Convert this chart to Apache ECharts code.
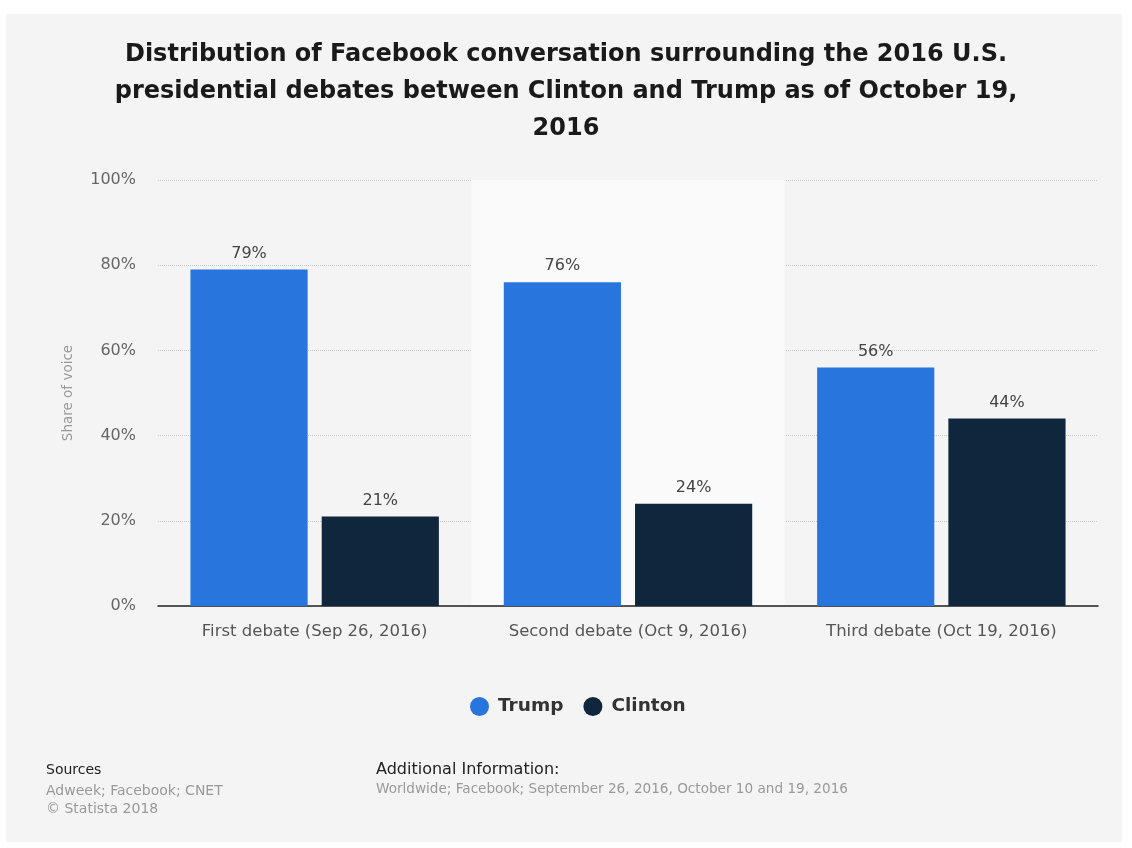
<!DOCTYPE html>
<html>
<head>
<meta charset="utf-8">
<script src="https://cdn.jsdelivr.net/npm/echarts@6/dist/echarts.min.js"></script>
<style>
  html, body { margin: 0; padding: 0; background: #fff; }
  #chart { width: 1132px; height: 848px; }
</style>
</head>
<body>
<div id="chart"></div>
<script>
// 数据
const categories = ['First debate (Sep 26, 2016)', 'Second debate (Oct 9, 2016)', 'Third debate (Oct 19, 2016)']
const trump = [79, 76, 56]
const clinton = [21, 24, 44]
const yTicks = [0, 20, 40, 60, 80, 100]

const myChart = echarts.init(document.querySelector('#chart'))

const font = 'DejaVu Sans, sans-serif'

const option = {
  backgroundColor: '#fff',
  textStyle: { fontFamily: font },
  title: {
    text: 'Distribution of Facebook conversation surrounding the 2016 U.S.\npresidential debates between Clinton and Trump as of October 19,\n2016',
    left: 'center',
    top: 31,
    textStyle: {
      fontFamily: font,
      fontSize: 24,
      fontWeight: 'bold',
      color: '#1a1a1a',
      lineHeight: 37
    }
  },
  // 背景面板 + 底部来源
  graphic: [
    {
      type: 'rect',
      z: -10,
      shape: { x: 6, y: 14, width: 1116, height: 828 },
      style: { fill: '#f4f4f4' }
    },
    {
      type: 'text', left: 46, top: 763,
      style: { text: 'Sources', font: '14px DejaVu Sans', fill: '#222' }
    },
    {
      type: 'text', left: 46, top: 782,
      style: { text: 'Adweek; Facebook; CNET\n© Statista 2018', font: '14px DejaVu Sans', fill: '#999', lineHeight: 18 }
    },
    {
      type: 'text', left: 376, top: 762,
      style: { text: 'Additional Information:', font: '16px DejaVu Sans', fill: '#222' }
    },
    {
      type: 'text', left: 376, top: 782,
      style: { text: 'Worldwide; Facebook; September 26, 2016, October 10 and 19, 2016', font: '13.6px DejaVu Sans', fill: '#999' }
    }
  ],
  legend: {
    bottom: 127,
    left: 465,
    icon: 'circle',
    itemWidth: 19,
    itemHeight: 19,
    itemGap: 20,
    textStyle: { fontFamily: font, fontSize: 18.5, fontWeight: 'bold', color: '#333', padding: [0, 0, 0, 4] },
    data: ['Trump', 'Clinton']
  },
  grid: {
    left: 158,
    right: 34,
    top: 180,
    bottom: 242,
    containLabel: false
  },
  xAxis: {
    type: 'category',
    data: categories,
    axisLine: { lineStyle: { color: '#222', width: 1.5 } },
    axisTick: { show: false },
    axisLabel: { interval: 0, fontFamily: font, fontSize: 16.5, color: '#555', margin: 17 },
    splitArea: {
      show: true,
      interval: 0,
      areaStyle: { color: ['rgba(0,0,0,0)', '#fafafa'] }
    }
  },
  yAxis: {
    type: 'value',
    min: 0,
    max: 100,
    interval: 20,
    name: 'Share of voice',
    nameLocation: 'middle',
    nameGap: 83,
    nameTextStyle: { fontFamily: font, fontSize: 13.5, color: '#999' },
    axisLine: { show: false },
    axisTick: { show: false },
    axisLabel: {
      fontFamily: font,
      fontSize: 16,
      color: '#666',
      margin: 22,
      formatter: v => yTicks.includes(v) ? v + '%' : ''
    },
    splitLine: { lineStyle: { type: 'dotted', color: '#c8c8c8' } }
  },
  series: [
    {
      name: 'Trump',
      type: 'bar',
      data: trump,
      barWidth: '37.4%',
      barGap: '12%',
      itemStyle: { color: '#2775dd' },
      label: { show: true, position: 'top', distance: 8, formatter: '{c}%', fontFamily: font, fontSize: 16, color: '#444' }
    },
    {
      name: 'Clinton',
      type: 'bar',
      data: clinton,
      barWidth: '37.4%',
      itemStyle: { color: '#10263d' },
      label: { show: true, position: 'top', distance: 8, formatter: '{c}%', fontFamily: font, fontSize: 16, color: '#444' }
    }
  ]
}

myChart.setOption(option)
</script>
</body>
</html>
